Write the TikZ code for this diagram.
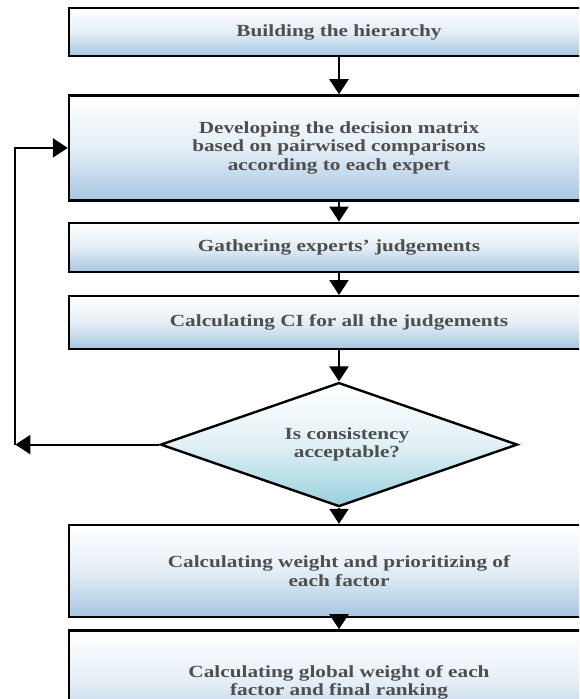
\documentclass[tikz,border=0pt]{standalone}
\usepackage{fontspec}
\setmainfont[FakeStretch=1.25]{Liberation Serif}
\usetikzlibrary{arrows.meta, positioning, shapes.geometric}
\definecolor{boxBlue}{HTML}{A6C6E2}
\definecolor{diaCyan}{HTML}{9ACFDE}
\definecolor{txtGray}{HTML}{4F4F4F}

\begin{document}
\begin{tikzpicture}[
    stepbox/.style={draw, line width=2.4pt, minimum width=540pt, inner sep=3pt,
        align=center, text=txtGray, font=\fontsize{17}{18.5}\selectfont\bfseries,
        top color=white, bottom color=boxBlue, middle color=boxBlue!30},
    decide/.style={diamond, aspect=2.88, draw, line width=2.4pt, minimum width=357pt, minimum height=124pt,
        inner sep=0pt, align=center, text=txtGray, font=\fontsize{17}{18.5}\selectfont\bfseries,
        top color=white, bottom color=diaCyan, middle color=diaCyan!30},
    arr/.style={-{Triangle[width=19pt,length=15pt]}, line width=2.2pt},
]
    \useasboundingbox (0,0) rectangle (579pt,-699pt);
    \clip (0,0) rectangle (579pt,-699pt);

    % main chain of steps
    \node[stepbox, minimum height=48pt] (build) at (339pt,-32pt) {Building the hierarchy};
    \node[stepbox, minimum height=105pt, below=37pt of build] (develop)
        {Developing the decision matrix\\based on pairwised comparisons\\according to each expert};
    \node[stepbox, minimum height=49pt, below=20pt of develop] (gather) {Gathering experts' judgements};
    \node[stepbox, minimum height=53pt, below=22pt of gather] (calcci) {Calculating CI for all the judgements};
    \node[decide, below=31pt of calcci] (consist) {\hspace*{16pt}Is consistency\\\hspace*{16pt}acceptable?};
    \node[stepbox, minimum height=92pt, below=16pt of consist] (weight)
        {Calculating weight and prioritizing of\\each factor};
    \node[stepbox, minimum height=104pt, below=11pt of weight] (globalw)
        {Calculating global weight of each\\factor and final ranking};

    \draw[arr] (build) -- (develop);
    \draw[arr] (develop) -- (gather);
    \draw[arr] (gather) -- (calcci);
    \draw[arr] (calcci) -- (consist);
    \draw[arr] (consist) -- (weight);
    \draw[arr] (weight) -- (globalw);

    % feedback loop back to the decision matrix
    \path (consist.west) ++(-144pt,0) coordinate (loopcorner);
    \draw[arr] (consist.west) -- (loopcorner);
    \draw[arr] (loopcorner) |- (develop.west);
\end{tikzpicture}
\end{document}
